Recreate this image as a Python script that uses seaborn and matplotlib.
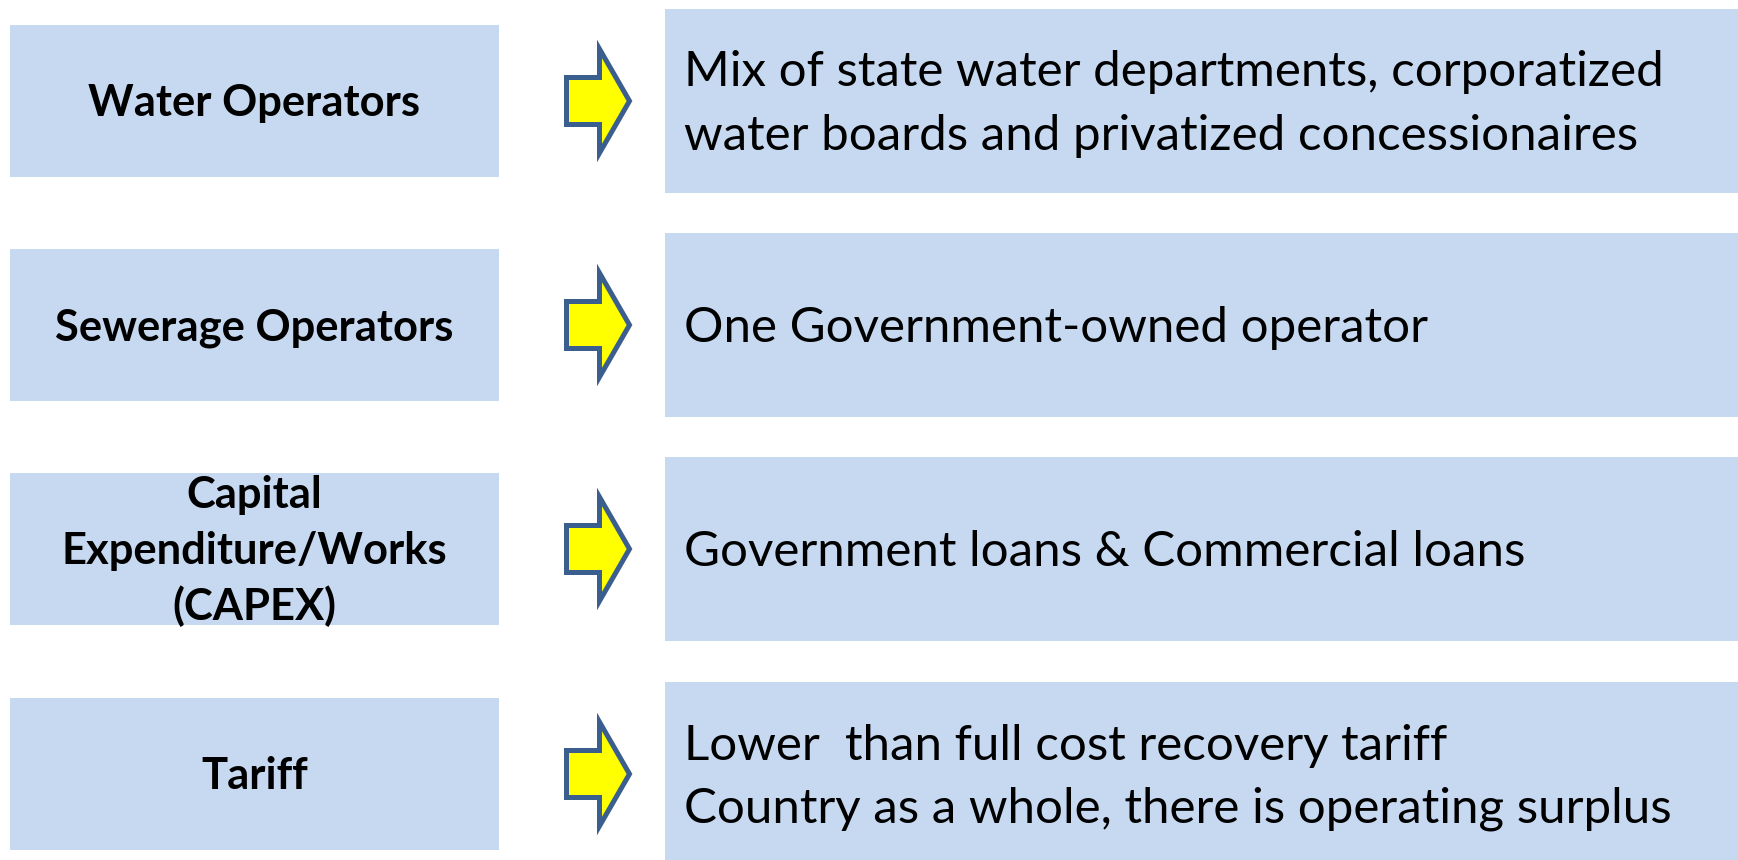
import matplotlib
matplotlib.use("Agg")
import matplotlib.pyplot as plt
from matplotlib.patches import Rectangle, Polygon
import seaborn as sns

# ---- content ----
topics = ["Water Operators", "Sewerage Operators",
          "Capital\nExpenditure/Works\n(CAPEX)", "Tariff"]
descriptions = [
    "Mix of state water departments, corporatized\nwater boards and privatized concessionaires",
    "One Government-owned operator",
    "Government loans & Commercial loans",
    "Lower  than full cost recovery tariff\nCountry as a whole, there is operating surplus",
]

# ---- style ----
sns.set_theme(style="white")
plt.rcParams['font.family'] = ['Lato', 'DejaVu Sans']
BOX = "#C6D9F1"
ARROW_FILL = "#FFFF00"
ARROW_EDGE = "#3A5F8E"

W, H = 1738, 860
fig = plt.figure(figsize=(W / 100, H / 100), dpi=100)
ax = fig.add_axes([0, 0, 1, 1])
ax.set_xlim(0, W)
ax.set_ylim(H, 0)
ax.axis("off")

row_cy = [101, 325, 549, 774]

# fit font sizes to measured text widths
fig.canvas.draw()
rend = fig.canvas.get_renderer()

def fit(txt, target, weight):
    t = ax.text(0, 0, txt, fontsize=30, fontweight=weight)
    w = t.get_window_extent(rend).width
    t.remove()
    return 30 * target / w

fs_right = fit("Country as a whole, there is operating surplus", 986, "normal")
fs_left = fit("Expenditure/Works", 385, "bold")

def draw_lines(lines, x, cy, cap, spacing, ha, fs, weight):
    n = len(lines)
    first = cy - (cap + (n - 1) * spacing) / 2 + cap
    for i, ln in enumerate(lines):
        ax.text(x, first + i * spacing, ln, ha=ha, va="baseline",
                fontsize=fs, fontweight=weight, color="black")

for i, (topic, desc) in enumerate(zip(topics, descriptions)):
    cy = row_cy[i]
    # left box
    ax.add_patch(Rectangle((10, cy - 76), 489, 152, facecolor=BOX,
                           edgecolor="none", zorder=1))
    # right box
    ax.add_patch(Rectangle((665, cy - 92), W - 665 + 10, 184, facecolor=BOX,
                           edgecolor="none", zorder=1))
    # arrow
    pts = [(566.5, cy - 23.5), (599.5, cy - 23.5), (599.5, cy - 52),
           (629.5, cy), (599.5, cy + 52), (599.5, cy + 23.5),
           (566.5, cy + 23.5)]
    ax.add_patch(Polygon(pts, closed=True, facecolor=ARROW_FILL,
                         edgecolor=ARROW_EDGE, linewidth=3.6,
                         joinstyle="miter", zorder=3))
    draw_lines(topic.split("\n"), 254.5, cy, 30, 56, "center", fs_left, "bold")
    draw_lines(desc.split("\n"), 684, cy + 1, 32, 63, "left", fs_right, "normal")

fig.savefig("out.png", dpi=100, facecolor="white")
